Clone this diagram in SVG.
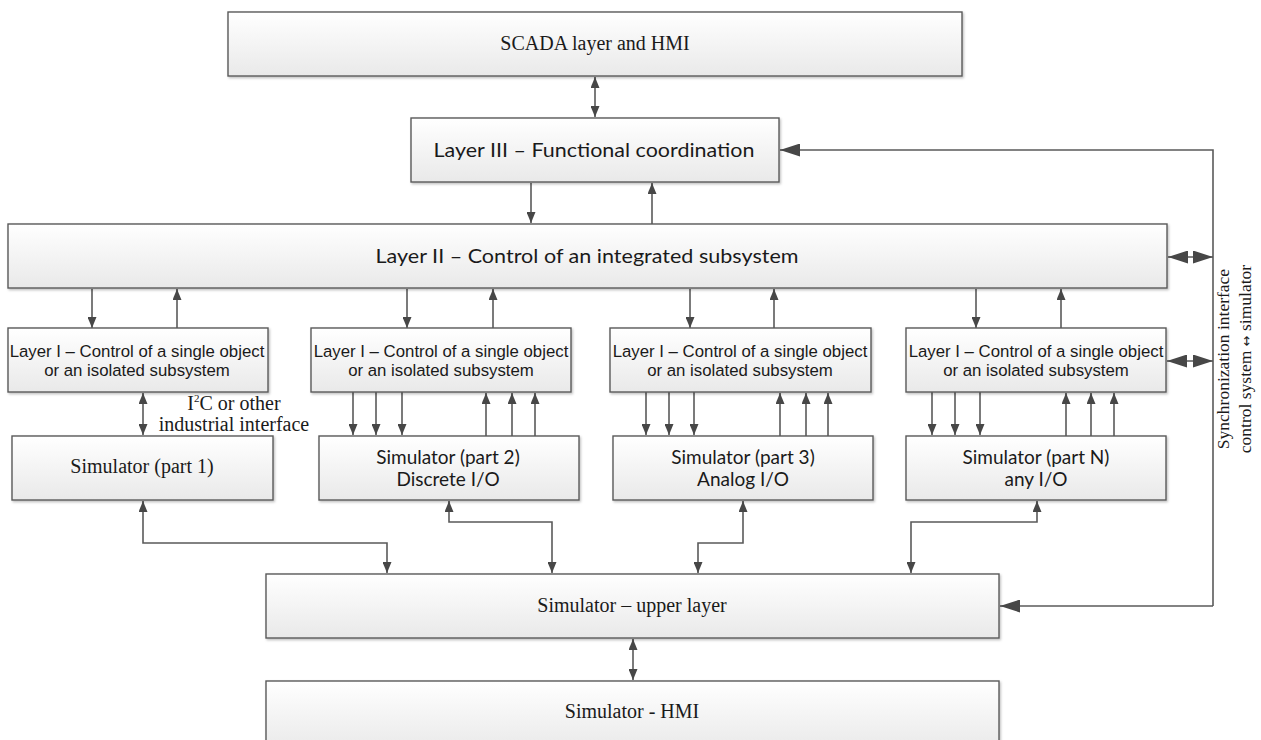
<svg xmlns="http://www.w3.org/2000/svg" width="1261" height="740" viewBox="0 0 1261 740">
<defs>
<linearGradient id="g" x1="0" y1="0" x2="0" y2="1">
<stop offset="0" stop-color="#ffffff"/>
<stop offset="1" stop-color="#e9e9e9"/>
</linearGradient>
<filter id="sh" x="-5%" y="-10%" width="110%" height="130%">
<feDropShadow dx="1.2" dy="1.5" stdDeviation="0.8" flood-color="#000" flood-opacity="0.25"/>
</filter>
<marker id="a" markerUnits="userSpaceOnUse" markerWidth="11" markerHeight="9" refX="11" refY="4.5" orient="auto-start-reverse">
<path d="M0,0 L11,4.5 L0,9 z" fill="#474747"/>
</marker>
<marker id="b" markerUnits="userSpaceOnUse" markerWidth="20" markerHeight="13" refX="20" refY="6.5" orient="auto-start-reverse">
<path d="M0,0 L20,6.5 L0,13 z" fill="#474747"/>
</marker>
</defs>
<style>
.box{fill:url(#g);stroke:#5a5a5a;stroke-width:1.4;filter:url(#sh)}
.c{fill:none;stroke:#5a5a5a;stroke-width:1.6}
.ar{marker-end:url(#a)}
.ar2{marker-start:url(#a);marker-end:url(#a)}
.br{marker-end:url(#b)}
.br2{marker-start:url(#b);marker-end:url(#b)}
.serif{font-family:"Liberation Serif","Times New Roman",serif;font-size:20px;fill:#1a1a1a}
.cal{font-family:Lato,"Open Sans",sans-serif;font-size:19px;fill:#1a1a1a}
.ari{font-family:"Liberation Sans",Arial,sans-serif;font-size:16.8px;fill:#1a1a1a}
.vert{font-family:"Liberation Serif","Times New Roman",serif;font-size:17.5px;fill:#1a1a1a}
.sym{font-family:"DejaVu Sans",sans-serif;font-size:13px}
text{text-anchor:middle}
</style>

<g id="connectors">
<line class="c ar2" x1="595" y1="77" x2="595" y2="117"/>
<line class="c ar" x1="531" y1="183" x2="531" y2="223"/>
<line class="c ar" x1="652" y1="224" x2="652" y2="183"/>
<line class="c ar" x1="92" y1="289" x2="92" y2="328"/>
<line class="c ar" x1="177" y1="328" x2="177" y2="289"/>
<line class="c ar" x1="407" y1="289" x2="407" y2="328"/>
<line class="c ar" x1="493" y1="328" x2="493" y2="289"/>
<line class="c ar" x1="690" y1="289" x2="690" y2="328"/>
<line class="c ar" x1="774" y1="328" x2="774" y2="289"/>
<line class="c ar" x1="976" y1="289" x2="976" y2="328"/>
<line class="c ar" x1="1061" y1="328" x2="1061" y2="289"/>
<line class="c ar2" x1="143" y1="393" x2="143" y2="435"/>
<line class="c ar" x1="353" y1="392" x2="353" y2="435"/>
<line class="c ar" x1="376" y1="392" x2="376" y2="435"/>
<line class="c ar" x1="402" y1="392" x2="402" y2="435"/>
<line class="c ar" x1="486" y1="436" x2="486" y2="393"/>
<line class="c ar" x1="512" y1="436" x2="512" y2="393"/>
<line class="c ar" x1="535" y1="436" x2="535" y2="393"/>
<line class="c ar" x1="646" y1="392" x2="646" y2="435"/>
<line class="c ar" x1="669" y1="392" x2="669" y2="435"/>
<line class="c ar" x1="694" y1="392" x2="694" y2="435"/>
<line class="c ar" x1="780" y1="436" x2="780" y2="393"/>
<line class="c ar" x1="806" y1="436" x2="806" y2="393"/>
<line class="c ar" x1="828" y1="436" x2="828" y2="393"/>
<line class="c ar" x1="932" y1="392" x2="932" y2="435"/>
<line class="c ar" x1="955" y1="392" x2="955" y2="435"/>
<line class="c ar" x1="980" y1="392" x2="980" y2="435"/>
<line class="c ar" x1="1066" y1="436" x2="1066" y2="393"/>
<line class="c ar" x1="1091" y1="436" x2="1091" y2="393"/>
<line class="c ar" x1="1114" y1="436" x2="1114" y2="393"/>
<polyline class="c ar2" points="143,501 143,543 387,543 387,573"/>
<polyline class="c ar2" points="449,501 449,522 552,522 552,573"/>
<polyline class="c ar2" points="743,501 743,543 698,543 698,573"/>
<polyline class="c ar2" points="1037,501 1037,522 911,522 911,573"/>
<line class="c ar2" x1="633" y1="639" x2="633" y2="680"/>
<polyline class="c br" points="1213,606 1213,150 780,150"/>
<line class="c br" x1="1213" y1="606" x2="1000" y2="606"/>
<line class="c br2" x1="1168" y1="257" x2="1213" y2="257"/>
<line class="c br2" x1="1167" y1="361" x2="1213" y2="361"/>
</g>

<g id="scada">
<rect class="box" x="228" y="12" width="734" height="64"/>
<text class="serif" x="595" y="50">SCADA layer and HMI</text>
</g>

<g id="layer3">
<rect class="box" x="411" y="118" width="368" height="64"/>
<text class="cal" x="594" y="157" textLength="321" lengthAdjust="spacingAndGlyphs">Layer III – Functional coordination</text>
</g>

<g id="layer2">
<rect class="box" x="8" y="224" width="1159" height="64"/>
<text class="cal" x="587" y="263" textLength="423" lengthAdjust="spacingAndGlyphs">Layer II – Control of an integrated subsystem</text>
</g>

<g id="layer1-1">
<rect class="box" x="8" y="328" width="260" height="64"/>
<text class="ari" x="137" y="357">Layer I – Control of a single object</text>
<text class="ari" x="137" y="376">or an isolated subsystem</text>
</g>
<g id="layer1-2">
<rect class="box" x="311" y="328" width="260" height="64"/>
<text class="ari" x="441" y="357">Layer I – Control of a single object</text>
<text class="ari" x="441" y="376">or an isolated subsystem</text>
</g>
<g id="layer1-3">
<rect class="box" x="610" y="328" width="261" height="64"/>
<text class="ari" x="740" y="357">Layer I – Control of a single object</text>
<text class="ari" x="740" y="376">or an isolated subsystem</text>
</g>
<g id="layer1-4">
<rect class="box" x="906" y="328" width="260" height="64"/>
<text class="ari" x="1036" y="357">Layer I – Control of a single object</text>
<text class="ari" x="1036" y="376">or an isolated subsystem</text>
</g>

<g id="i2c-label">
<text class="serif" x="234" y="410">I<tspan font-size="11" dy="-8">2</tspan><tspan dy="8">C or other</tspan></text>
<text class="serif" x="234" y="431">industrial interface</text>
</g>

<g id="sim1">
<rect class="box" x="12" y="436" width="261" height="64"/>
<text class="serif" x="142" y="473">Simulator (part 1)</text>
</g>
<g id="sim2">
<rect class="box" x="319" y="436" width="260" height="64"/>
<text class="cal" x="448" y="464">Simulator (part 2)</text>
<text class="cal" x="448" y="486">Discrete I/O</text>
</g>
<g id="sim3">
<rect class="box" x="613" y="436" width="260" height="64"/>
<text class="cal" x="743" y="464">Simulator (part 3)</text>
<text class="cal" x="743" y="486">Analog I/O</text>
</g>
<g id="simN">
<rect class="box" x="906" y="436" width="260" height="64"/>
<text class="cal" x="1036" y="464">Simulator (part N)</text>
<text class="cal" x="1036" y="486">any I/O</text>
</g>

<g id="sim-upper">
<rect class="box" x="266" y="574" width="733" height="64"/>
<text class="serif" x="632" y="612">Simulator – upper layer</text>
</g>

<g id="sim-hmi">
<rect class="box" x="266" y="681" width="733" height="70"/>
<text class="serif" x="632" y="718">Simulator - HMI</text>
</g>

<g id="sync-label">
<text class="vert" transform="translate(1229,359) rotate(-90)">Synchronization interface</text>
<text class="vert" transform="translate(1251,359) rotate(-90)">control system <tspan class="sym">↔</tspan> simulator</text>
</g>
</svg>
